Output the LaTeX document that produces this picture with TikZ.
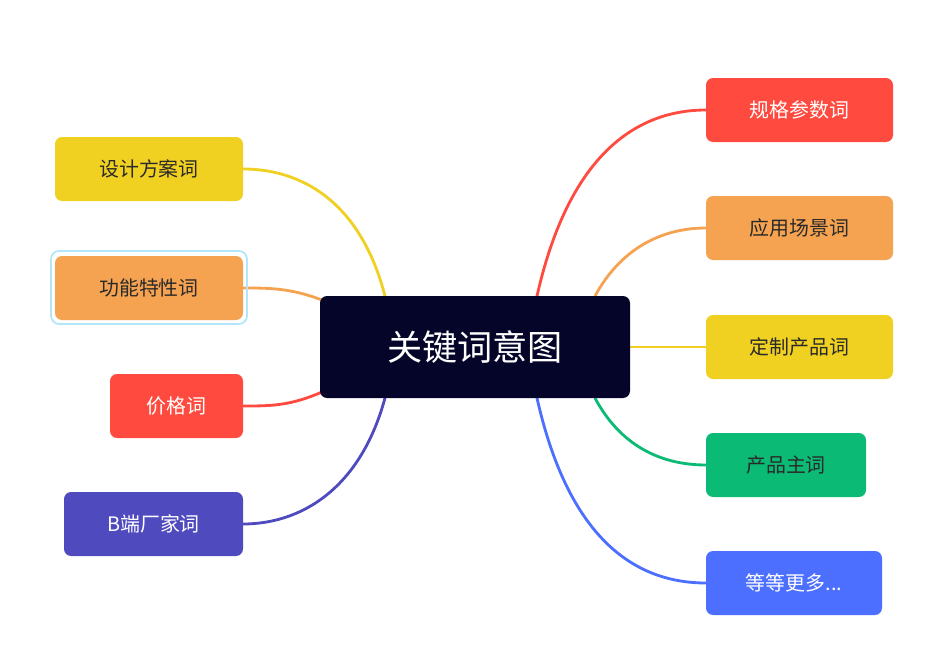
\documentclass[tikz,border=0pt]{standalone}
\usepackage{fontspec}
\setmainfont{Noto Sans CJK SC}
\definecolor{cy}{HTML}{F0D020}
\definecolor{co}{HTML}{F5A350}
\definecolor{cr}{HTML}{FF4A3F}
\definecolor{cp}{HTML}{4F4BBF}
\definecolor{cg}{HTML}{0BBA74}
\definecolor{cb}{HTML}{4C6FFF}
\definecolor{cn}{HTML}{05052A}
\definecolor{ct}{HTML}{2A2A2A}
\begin{document}
\begin{tikzpicture}[x=0.03cm,y=-0.03cm,
 box/.style={rounded corners=6pt,inner sep=0pt,font=\fontsize{17}{17}\selectfont},
 ln/.style={line width=2.4pt}]
\useasboundingbox (0,0) rectangle (939,669);
\fill[white] (0,0) rectangle (939,669);
% connectors
\draw[ln,cy] (385,296) .. controls (360,200) and (300,169) .. (243,169);
\draw[ln,co] (322,300) .. controls (290,288) and (270,288) .. (243,288);
\draw[ln,cr] (322,392) .. controls (290,406) and (270,406) .. (243,406);
\draw[ln,cp] (385,398) .. controls (360,490) and (300,524) .. (243,524);
\draw[ln,cr] (537,296) .. controls (570,150) and (640,110) .. (706,110);
\draw[ln,co] (595,296) .. controls (620,250) and (660,228) .. (706,228);
\draw[ln,cy] (630,347) -- (706,347);
\draw[ln,cg] (595,398) .. controls (620,445) and (660,465) .. (706,465);
\draw[ln,cb] (537,398) .. controls (570,545) and (640,583) .. (706,583);
% center
\node[box,fill=cn,text=white,minimum width=310*0.03cm,minimum height=102*0.03cm,font=\fontsize{30}{30}\selectfont] (c) at (475,347) {关键词意图};
% left
\node[box,fill=cy,text=ct,minimum width=188*0.03cm,minimum height=64*0.03cm] (l1) at (149,169) {设计方案词};
\draw[cyan!30,line width=1.5pt,rounded corners=7pt] (51,251) rectangle (247,324);
\node[box,fill=co,text=ct,minimum width=188*0.03cm,minimum height=64*0.03cm] (l2) at (149,288) {功能特性词};
\node[box,fill=cr,text=white,minimum width=133*0.03cm,minimum height=64*0.03cm] (l3) at (176.5,406) {价格词};
\node[box,fill=cp,text=white,minimum width=179*0.03cm,minimum height=64*0.03cm] (l4) at (153.5,524) {B端厂家词};
% right
\node[box,fill=cr,text=white,minimum width=187*0.03cm,minimum height=64*0.03cm] (r1) at (799.5,110) {规格参数词};
\node[box,fill=co,text=ct,minimum width=187*0.03cm,minimum height=64*0.03cm] (r2) at (799.5,228) {应用场景词};
\node[box,fill=cy,text=ct,minimum width=187*0.03cm,minimum height=64*0.03cm] (r3) at (799.5,347) {定制产品词};
\node[box,fill=cg,text=ct,minimum width=160*0.03cm,minimum height=64*0.03cm] (r4) at (786,465) {产品主词};
\node[box,fill=cb,text=white,minimum width=176*0.03cm,minimum height=64*0.03cm] (r5) at (794,583) {等等更多...};
\end{tikzpicture}
\end{document}
